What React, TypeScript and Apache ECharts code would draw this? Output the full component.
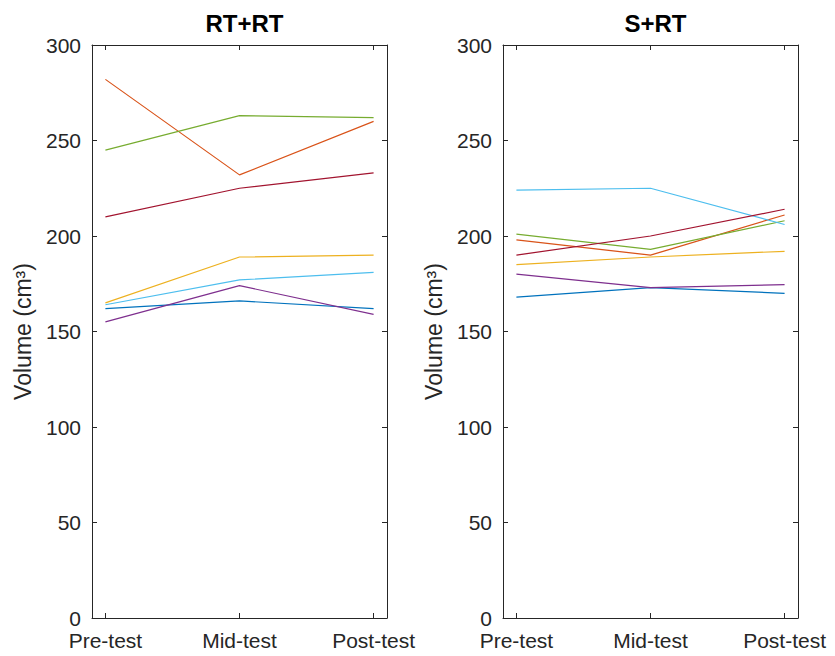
import React, { useEffect, useRef } from "react";
import * as echarts from "echarts";

const phases = ["Pre-test", "Mid-test", "Post-test"];
const phasePositions = [1, 2, 3];
const panelTitles = ["RT+RT", "S+RT"];
const yAxisName = "Volume (cm³)";

const seriesColors = ["#0072BD", "#D95319", "#EDB120", "#7E2F8E", "#77AC30", "#4DBEEE", "#A2142F"];

// RT+RT group (one array per subject: pre, mid, post)
const rtrtBlue = [162, 166, 162];
const rtrtOrange = [282, 232, 260];
const rtrtYellow = [165, 189, 190];
const rtrtPurple = [155, 174, 159];
const rtrtGreen = [245, 263, 262];
const rtrtLightBlue = [164, 177, 181];
const rtrtDarkRed = [210, 225, 233];

// S+RT group
const srtBlue = [168, 173, 170];
const srtOrange = [198, 190, 211];
const srtYellow = [185, 189, 192];
const srtPurple = [180, 173, 174.5];
const srtGreen = [201, 193, 208];
const srtLightBlue = [224, 225, 206];
const srtDarkRed = [190, 200, 214];

const rtrtGroup = [rtrtBlue, rtrtOrange, rtrtYellow, rtrtPurple, rtrtGreen, rtrtLightBlue, rtrtDarkRed];
const srtGroup = [srtBlue, srtOrange, srtYellow, srtPurple, srtGreen, srtLightBlue, srtDarkRed];
const groups = [rtrtGroup, srtGroup];

const yMin = 0;
const yMax = 300;
const yInterval = 50;

const FONT = "Liberation Sans, Arial, Helvetica, sans-serif";
const INK = "#262626";

export default function App() {
  const ref = useRef<HTMLDivElement | null>(null);

  useEffect(() => {
    if (!ref.current) return;
    const chart = echarts.init(ref.current, undefined, { renderer: "svg" });

    const gridLefts = [92, 503];
    const grids = gridLefts.map((left) => ({
      left,
      top: 45,
      width: 295,
      height: 573,
      containLabel: false,
      show: false,
    }));

    const xAxes: any[] = [];
    const yAxes: any[] = [];
    gridLefts.forEach((_, gi) => {
      xAxes.push({
        type: "value",
        gridIndex: gi,
        min: 0.9,
        max: 3.1,
        position: "bottom",
        axisLine: { show: true, onZero: false, lineStyle: { color: INK, width: 1 } },
        axisTick: { show: true, inside: true, length: 5, customValues: phasePositions, lineStyle: { color: INK } },
        axisLabel: {
          show: true,
          customValues: phasePositions,
          formatter: (v: number) => phases[Math.round(v) - 1] ?? "",
          color: INK,
          fontSize: 21,
          lineHeight: 18,
          fontFamily: FONT,
          margin: 13,
        },
        splitLine: { show: false },
      });
      xAxes.push({
        type: "value",
        gridIndex: gi,
        min: 0.9,
        max: 3.1,
        position: "top",
        axisLine: { show: true, onZero: false, lineStyle: { color: INK, width: 1 } },
        axisTick: { show: true, inside: true, length: 5, customValues: phasePositions, lineStyle: { color: INK } },
        axisLabel: { show: false },
        splitLine: { show: false },
      });
      yAxes.push({
        type: "value",
        gridIndex: gi,
        min: yMin,
        max: yMax,
        interval: yInterval,
        position: "left",
        name: yAxisName,
        nameLocation: "middle",
        nameRotate: 90,
        nameGap: 58,
        nameTextStyle: { color: INK, fontSize: 23, fontFamily: FONT },
        axisLine: { show: true, onZero: false, lineStyle: { color: INK, width: 1 } },
        axisTick: { show: true, inside: true, length: 5, lineStyle: { color: INK } },
        axisLabel: { color: INK, fontSize: 21, lineHeight: 18, fontFamily: FONT, margin: 11 },
        splitLine: { show: false },
      });
      yAxes.push({
        type: "value",
        gridIndex: gi,
        min: yMin,
        max: yMax,
        interval: yInterval,
        position: "right",
        axisLine: { show: true, onZero: false, lineStyle: { color: INK, width: 1 } },
        axisTick: { show: true, inside: true, length: 5, lineStyle: { color: INK } },
        axisLabel: { show: false },
        splitLine: { show: false },
      });
    });

    const series: any[] = [];
    groups.forEach((group, gi) => {
      group.forEach((vals, si) => {
        series.push({
          type: "line",
          xAxisIndex: gi * 2,
          yAxisIndex: gi * 2,
          data: vals.map((v, i) => [phasePositions[i], v]),
          showSymbol: false,
          symbol: "none",
          lineStyle: { color: seriesColors[si], width: 1.2 },
          itemStyle: { color: seriesColors[si] },
          silent: true,
        });
      });
    });

    chart.setOption({
      animation: false,
      backgroundColor: "#ffffff",
      title: panelTitles.map((t, i) => ({
        text: t,
        left: gridLefts[i] + 147.5,
        textAlign: "center",
        top: 6,
        textStyle: { color: "#000000", fontSize: 24, fontWeight: "bold", fontFamily: FONT },
      })),
      grid: grids,
      xAxis: xAxes,
      yAxis: yAxes,
      series,
    });

    return () => {
      chart.dispose();
    };
  }, []);

  return (
    <div
      ref={ref}
      style={{ position: "fixed", left: 0, top: 0, width: 835, height: 656, background: "#fff" }}
    />
  );
}
